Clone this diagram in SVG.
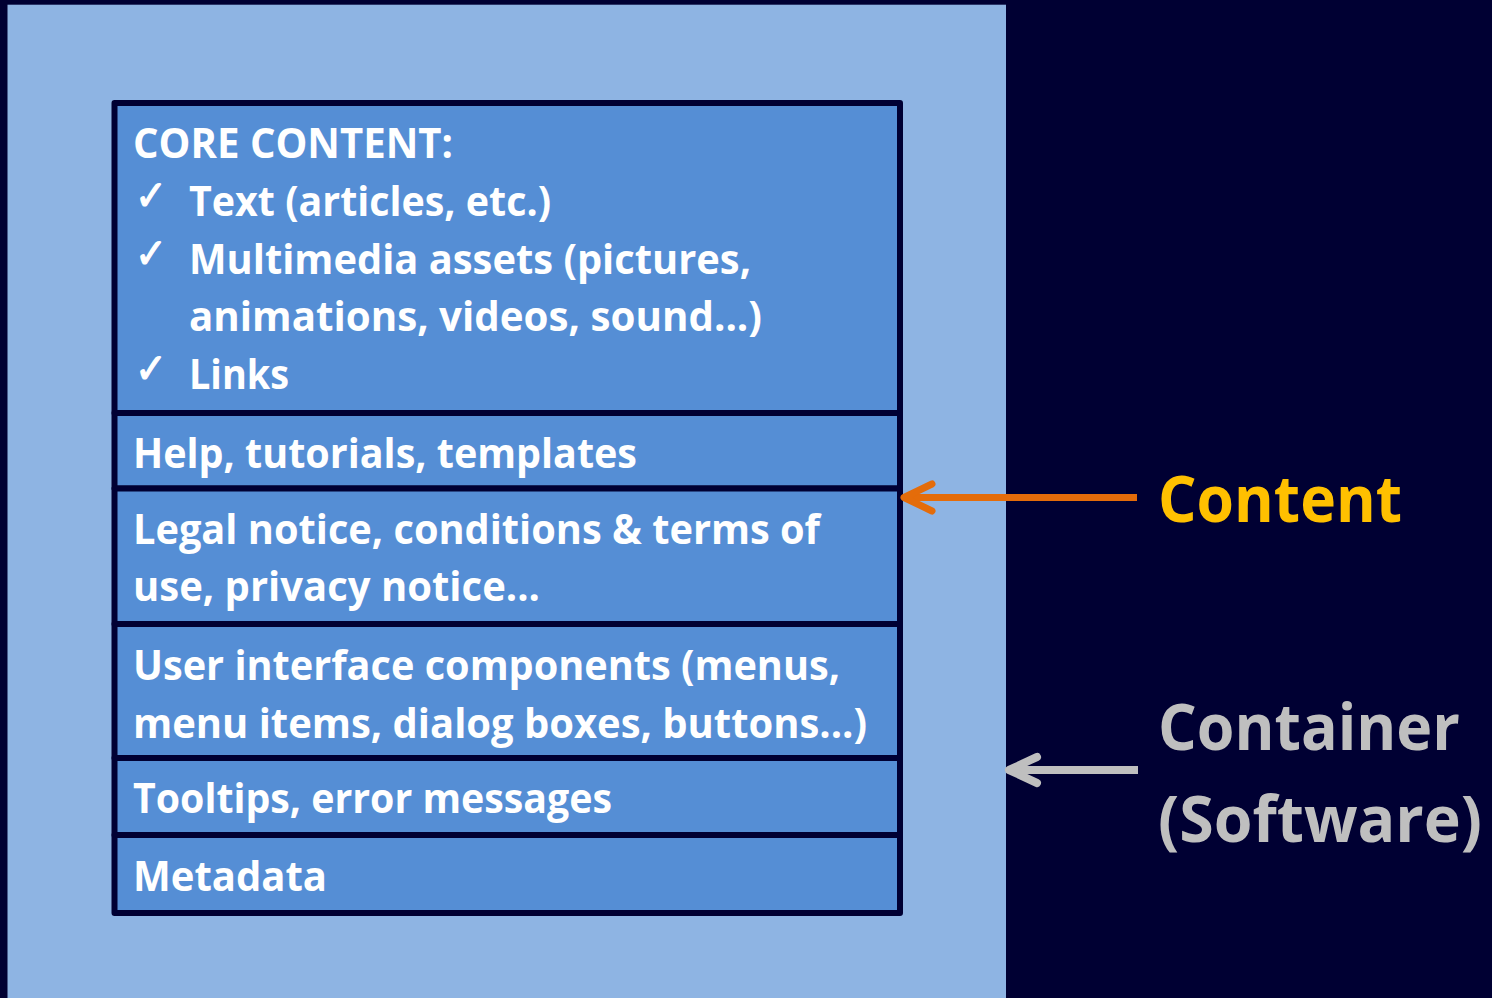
<svg xmlns="http://www.w3.org/2000/svg" width="1492" height="998" viewBox="0 0 1492 998">
<style>
.row{fill:#558ED5;stroke:#000033;stroke-width:6;stroke-linejoin:round}
.t{font-family:"Open Sans","Liberation Sans",sans-serif;font-weight:700;font-size:42px;fill:#FFFFFF}
.chk{font-family:"DejaVu Sans",sans-serif;font-size:42px;fill:#FFFFFF;stroke:#FFFFFF;stroke-width:1.2}
.big{font-family:"Open Sans","Liberation Sans",sans-serif;font-weight:700;font-size:65px}
</style>
<rect x="0" y="0" width="1492" height="998" fill="#000033"/>
<rect x="7.5" y="4.7" width="998.5" height="994" fill="#8EB4E3"/>
<g id="core">
<rect class="row" x="114.5" y="103" width="785.5" height="310"/>
<text class="t" x="133" y="158" textLength="320" lengthAdjust="spacingAndGlyphs">CORE CONTENT:</text>
<text class="chk" x="135" y="210" textLength="32" lengthAdjust="spacingAndGlyphs">✓</text>
<text class="t" x="189" y="216" textLength="362" lengthAdjust="spacingAndGlyphs">Text (articles, etc.)</text>
<text class="chk" x="135" y="268" textLength="32" lengthAdjust="spacingAndGlyphs">✓</text>
<text class="t" x="189" y="274" textLength="562" lengthAdjust="spacingAndGlyphs">Multimedia assets (pictures,</text>
<text class="t" x="189" y="331" textLength="573" lengthAdjust="spacingAndGlyphs">animations, videos, sound...)</text>
<text class="chk" x="135" y="383" textLength="32" lengthAdjust="spacingAndGlyphs">✓</text>
<text class="t" x="189" y="389" textLength="100" lengthAdjust="spacingAndGlyphs">Links</text>
</g>
<g id="help">
<rect class="row" x="114.5" y="413" width="785.5" height="75.5"/>
<text class="t" x="133" y="468" textLength="504" lengthAdjust="spacingAndGlyphs">Help, tutorials, templates</text>
</g>
<g id="legal">
<rect class="row" x="114.5" y="488.5" width="785.5" height="135.5"/>
<text class="t" x="133" y="544" textLength="687" lengthAdjust="spacingAndGlyphs">Legal notice, conditions &amp; terms of</text>
<text class="t" x="133" y="601" textLength="407" lengthAdjust="spacingAndGlyphs">use, privacy notice...</text>
</g>
<g id="ui">
<rect class="row" x="114.5" y="624" width="785.5" height="134"/>
<text class="t" x="133" y="680" textLength="707" lengthAdjust="spacingAndGlyphs">User interface components (menus,</text>
<text class="t" x="133" y="738" textLength="734" lengthAdjust="spacingAndGlyphs">menu items, dialog boxes, buttons...)</text>
</g>
<g id="tooltips">
<rect class="row" x="114.5" y="758" width="785.5" height="77"/>
<text class="t" x="133" y="813" textLength="479" lengthAdjust="spacingAndGlyphs">Tooltips, error messages</text>
</g>
<g id="metadata">
<rect class="row" x="114.5" y="835" width="785.5" height="78"/>
<text class="t" x="133" y="891" textLength="194" lengthAdjust="spacingAndGlyphs">Metadata</text>
</g>
<g id="connectors" fill="none" stroke-linecap="round" stroke-linejoin="round">
<line x1="1137" y1="497.5" x2="906" y2="497.5" stroke="#E46C0A" stroke-width="7" stroke-linecap="butt"/>
<polyline points="932,484 904,497.5 932,511" stroke="#E46C0A" stroke-width="7"/>
<line x1="1138" y1="770" x2="1011" y2="770" stroke="#BFBFBF" stroke-width="8" stroke-linecap="butt"/>
<polyline points="1037,757 1009,770 1037,783" stroke="#BFBFBF" stroke-width="8"/>
</g>
<g id="content-label">
<text class="big" x="1158" y="522" fill="#FFC000" textLength="244" lengthAdjust="spacingAndGlyphs">Content</text>
</g>
<g id="container-label">
<text class="big" x="1158" y="750" fill="#BFBFBF" textLength="302" lengthAdjust="spacingAndGlyphs">Container</text>
<text class="big" x="1158" y="842" fill="#BFBFBF" textLength="324" lengthAdjust="spacingAndGlyphs">(Software)</text>
</g>
</svg>
